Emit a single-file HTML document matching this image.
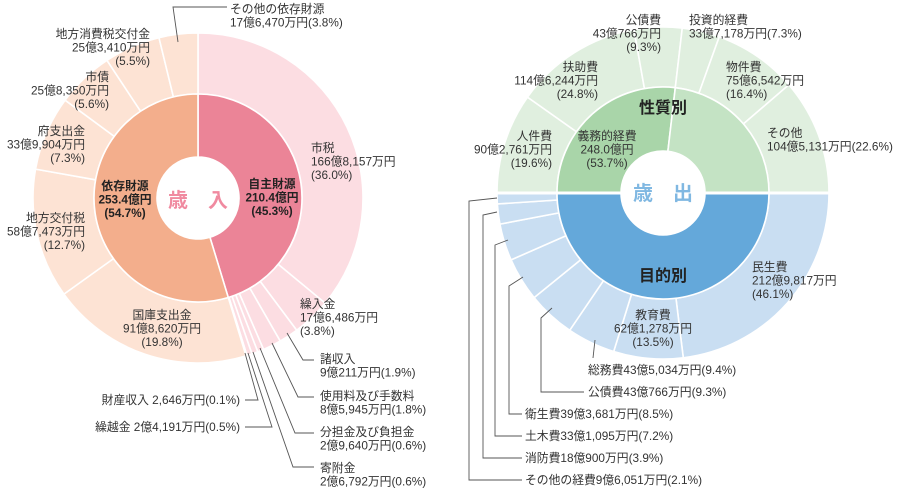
<!DOCTYPE html>
<html><head><meta charset="utf-8"><style>
html,body{margin:0;padding:0;background:#fff;width:900px;height:492px;overflow:hidden}
svg{display:block}
text{font-family:"Liberation Sans","Noto Sans CJK JP",sans-serif;font-size:11.8px;fill:#333}
.b{font-weight:bold;fill:#222}
</style></head><body>
<svg id="s" width="900" height="492" viewBox="0 0 900 492" xmlns="http://www.w3.org/2000/svg">
<g id="arcs"></g>
<g fill="none" stroke="#555" stroke-width="0.9">
<polyline points="178,42 173,7 227,7"/>
<polyline points="287,333 303,360 314,360"/>
<polyline points="272,343 298,397 314,397"/>
<polyline points="260,348 295,433 314,433"/>
<polyline points="253,352 293,467 314,467"/>
<polyline points="248,353 272,427 245,427"/>
<polyline points="245,353 258,400 245,400"/>
<polyline points="595,340 593,358"/>
<polyline points="552,308 541,318 541,392 584,392"/>
<polyline points="523,277 509,286 509,414 522,414"/>
<polyline points="508,240 495,245 495,436 522,436"/>
<polyline points="497,212 483,215 483,458 522,458"/>
<polyline points="497,198 469,201 469,480 522,480"/>
</g>
<g id="t"></g>
</svg>
<script>
var NS="http://www.w3.org/2000/svg";
function arc(cx,cy,r0,r1,a0,a1,fill){
 var t0=(a0-90)*Math.PI/180,t1=(a1-90)*Math.PI/180,L=(a1-a0)>180?1:0;
 var d="M"+(cx+r1*Math.cos(t0))+","+(cy+r1*Math.sin(t0))+"A"+r1+","+r1+" 0 "+L+" 1 "+(cx+r1*Math.cos(t1))+","+(cy+r1*Math.sin(t1))+
 "L"+(cx+r0*Math.cos(t1))+","+(cy+r0*Math.sin(t1))+"A"+r0+","+r0+" 0 "+L+" 0 "+(cx+r0*Math.cos(t0))+","+(cy+r0*Math.sin(t0))+"Z";
 var p=document.createElementNS(NS,"path");p.setAttribute("d",d);p.setAttribute("fill",fill);
 p.setAttribute("stroke","#fff");p.setAttribute("stroke-width","1.6");document.getElementById("arcs").appendChild(p);}
function ring(cx,cy,r0,r1,start,span,vals,cols){var a=start;var tot=0;vals.forEach(function(v){tot+=v});
 vals.forEach(function(v,i){var e=a+span*v/tot;arc(cx,cy,r0,r1,a,e,cols[i%cols.length]||cols[0]);a=e;});}
var pk="#fcdde2",pe="#fde3d4";
ring(198,198,104,165,0,360,[36.0,3.8,1.9,1.8,0.6,0.6,0.5,0.1,19.8,12.7,7.3,5.6,5.5,3.8],
 [pk,pk,pk,pk,pk,pk,pk,pk,pe,pe,pe,pe,pe,pe]);
ring(198,198,41,104,0,360,[45.3,54.7],["#eb8497","#f3ae8c"]);
ring(663,193,106,166,270,180,[19.6,24.8,9.3,7.3,16.4,22.6],["#e0efdf"]);
ring(663,193,42,106,270,180,[53.7,46.3],["#a9d5a9","#c4e3c4"]);
ring(663,193,106,166,90,180,[46.1,13.5,9.4,9.3,8.5,7.2,3.9,2.1],["#c9def2"]);
ring(663,193,42,106,90,180,[100],["#64a8da"]);
var r=document.createElementNS(NS,"rect");r.setAttribute("x",490);r.setAttribute("y",191.5);r.setAttribute("width",350);r.setAttribute("height",3);r.setAttribute("fill","#fff");document.getElementById("arcs").appendChild(r);
var c=document.createElementNS(NS,"circle");c.setAttribute("cx",663);c.setAttribute("cy",193);c.setAttribute("r",42);c.setAttribute("fill","#fff");document.getElementById("arcs").appendChild(c);
var T=[
[230,13,"start","",["その他の依存財源","17億6,470万円(3.8%)"]],
[150,38,"end","",["地方消費税交付金","25億3,410万円","(5.5%)"]],
[109,81,"end","",["市債","25億8,350万円","(5.6%)"]],
[85,135,"end","",["府支出金","33億9,904万円","(7.3%)"]],
[85,222,"end","",["地方交付税","58億7,473万円","(12.7%)"]],
[125,190,"middle","b",["依存財源","253.4億円","(54.7%)"]],
[272,188,"middle","b",["自主財源","210.4億円","(45.3%)"]],
[311,152,"start","",["市税","166億8,157万円","(36.0%)"]],
[162,319,"middle","",["国庫支出金","91億8,620万円","(19.8%)"]],
[300,308,"start","",["繰入金","17億6,486万円","(3.8%)"]],
[320,363,"start","",["諸収入","9億211万円(1.9%)"]],
[320,400,"start","",["使用料及び手数料","8億5,945万円(1.8%)"]],
[320,436,"start","",["分担金及び負担金","2億9,640万円(0.6%)"]],
[320,472,"start","",["寄附金","2億6,792万円(0.6%)"]],
[240,404,"end","",["財産収入 2,646万円(0.1%)"]],
[240,431,"end","",["繰越金 2億4,191万円(0.5%)"]],
[661,24,"end","",["公債費","43億766万円","(9.3%)"]],
[689,24,"start","",["投資的経費","33億7,178万円(7.3%)"]],
[598,71,"end","",["扶助費","114億6,244万円","(24.8%)"]],
[726,71,"start","",["物件費","75億6,542万円","(16.4%)"]],
[552,140,"end","",["人件費","90億2,761万円","(19.6%)"]],
[767,137,"start","",["その他","104億5,131万円(22.6%)"]],
[607,140,"middle","",["義務的経費","248.0億円","(53.7%)"]],
[752,271,"start","",["民生費","212億9,817万円","(46.1%)"]],
[653,319,"middle","",["教育費","62億1,278万円","(13.5%)"]],
[588,374,"start","",["総務費43億5,034万円(9.4%)"]],
[588,396,"start","",["公債費43億766万円(9.3%)"]],
[525,418,"start","",["衛生費39億3,681万円(8.5%)"]],
[525,440,"start","",["土木費33億1,095万円(7.2%)"]],
[525,462,"start","",["消防費18億900万円(3.9%)"]],
[525,484,"start","",["その他の経費9億6,051万円(2.1%)"]]
];
var g=document.getElementById("t");
T.forEach(function(o){o[4].forEach(function(s,i){var t=document.createElementNS(NS,"text");
t.setAttribute("x",o[0]);t.setAttribute("y",o[1]+i*13.5);t.setAttribute("text-anchor",o[2]);if(o[3])t.setAttribute("class",o[3]);t.textContent=s;g.appendChild(t);});});
function big(x,y,s,col,sz){var t=document.createElementNS(NS,"text");t.setAttribute("x",x);t.setAttribute("y",y);t.setAttribute("text-anchor","middle");
t.setAttribute("style","font-size:"+sz+"px;font-weight:bold;fill:"+col);t.textContent=s;g.appendChild(t);}
big(198,207,"歳　入","#f08aa0",20);
big(663,200,"歳　出","#80b8e2",20);
big(663,113,"性質別","#222",16);
big(663,281,"目的別","#222",16);
</script>
</body></html>
